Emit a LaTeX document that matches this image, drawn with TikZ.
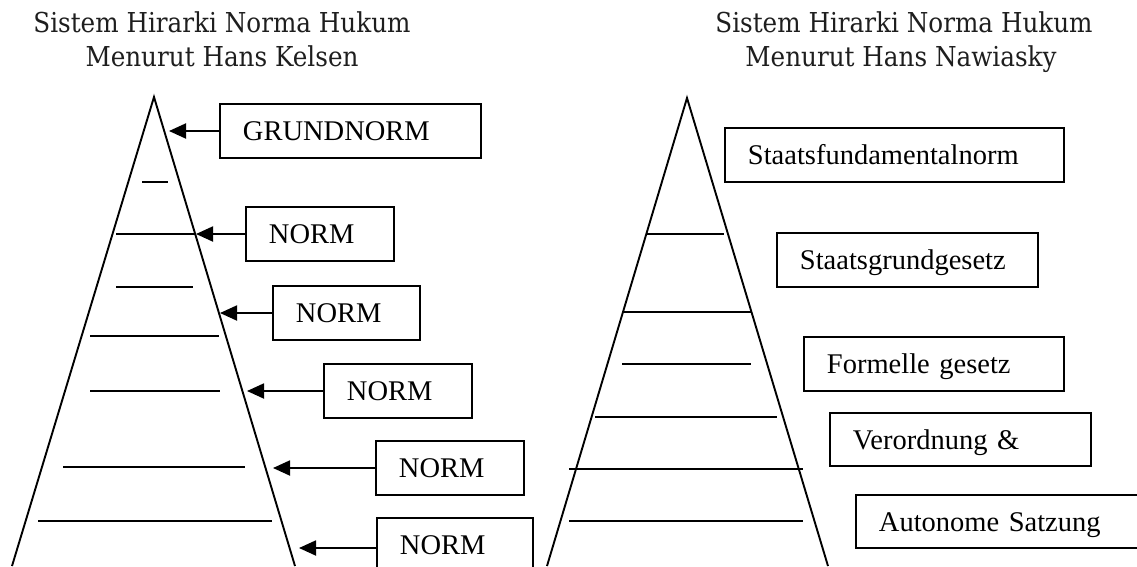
\documentclass[tikz,border=0pt]{standalone}
\usepackage{fontspec}
\setmainfont{Liberation Serif}
\newfontfamily\titlefont[FakeStretch=0.9]{DejaVu Serif}
\usetikzlibrary{arrows.meta}
\definecolor{titlegray}{RGB}{30,30,30}
\begin{document}
\begin{tikzpicture}[x=1pt,y=-1pt,
  lw/.style={line width=1.9pt},
  arr/.style={line width=1.9pt,-{Triangle[length=17pt,width=15pt]}},
  boxstyle/.style={draw,line width=1.9pt,anchor=west,inner xsep=23pt,inner ysep=0pt,
    minimum height=54pt,align=left,text height=19pt,text depth=0pt,
    font=\fontsize{28.5}{34}\selectfont},
  titlestyle/.style={anchor=base,inner sep=0pt,text=titlegray,
    font=\titlefont\fontsize{27.4}{34}\selectfont}]
\useasboundingbox (0,0) rectangle (1137,566);
% titles
\node[titlestyle] (tl1) at (222,32) {Sistem Hirarki Norma Hukum};
\node[titlestyle] (tl2) at (222,66) {Menurut Hans Kelsen};
\node[titlestyle] (tr1) at (904,32) {Sistem Hirarki Norma Hukum};
\node[titlestyle] (tr2) at (901,66) {Menurut Hans Nawiasky};
% left pyramid
\coordinate (LA) at (154,97);
\coordinate (LL) at (12,566);
\coordinate (LR) at (295,566);
\draw[lw] (LL) -- (LA) -- (LR);
\draw[lw] (142,182) -- (168,182);
\draw[lw] (116,234) -- (196,234);
\draw[lw] (116,287) -- (193,287);
\draw[lw] (90,336) -- (219,336);
\draw[lw] (90,391) -- (220,391);
\draw[lw] (63,467) -- (245,467);
\draw[lw] (38,521) -- (272,521);
% left boxes
\node[boxstyle,minimum width=261pt,text width=215pt] (g) at (219,131) {GRUNDNORM};
\node[boxstyle,minimum width=148pt,text width=102pt] (n1) at (245,234) {NORM};
\node[boxstyle,minimum width=147pt,text width=101pt] (n2) at (272,313) {NORM};
\node[boxstyle,minimum width=148pt,text width=102pt] (n3) at (323,391) {NORM};
\node[boxstyle,minimum width=148pt,text width=102pt] (n4) at (375,468) {NORM};
\node[boxstyle,minimum width=156pt,text width=110pt] (n5) at (376,545) {NORM};
\coordinate (tg) at (169,131);
\coordinate (t1) at (196,234);
\coordinate (t2) at (220,313);
\coordinate (t3) at (247,391);
\coordinate (t4) at (273,468);
\coordinate (t5) at (299,548);
\draw[arr] (g.west) -- (tg);
\draw[arr] (n1.west) -- (t1);
\draw[arr] (n2.west) -- (t2);
\draw[arr] (n3.west) -- (t3);
\draw[arr] (n4.west) -- (t4);
\draw[arr] (n5.west |- t5) -- (t5);
% right pyramid
\coordinate (RA) at (687,98);
\coordinate (RL) at (547,566);
\coordinate (RR) at (828,566);
\draw[lw] (RL) -- (RA) -- (RR);
\draw[lw] (646,234) -- (724,234);
\draw[lw] (622,312) -- (752,312);
\draw[lw] (622,364) -- (751,364);
\draw[lw] (595,417) -- (777,417);
\draw[lw] (569,469) -- (803,469);
\draw[lw] (569,521) -- (803,521);
% right boxes
\node[boxstyle,minimum width=339pt,text width=293pt] (s1) at (724,155) {Staatsfundamentalnorm};
\node[boxstyle,minimum width=261pt,text width=215pt] (s2) at (776,260) {Staatsgrundgesetz};
\node[boxstyle,minimum width=260pt,text width=214pt] (s3) at (803,364) {Formelle gesetz};
\node[boxstyle,minimum width=261pt,text width=215pt,minimum height=53pt] (s4) at (829,439.5) {Verordnung \&};
\node[boxstyle,minimum width=300pt,text width=254pt,minimum height=53pt] (s5) at (855,521.5) {Autonome Satzung};
\end{tikzpicture}
\end{document}
